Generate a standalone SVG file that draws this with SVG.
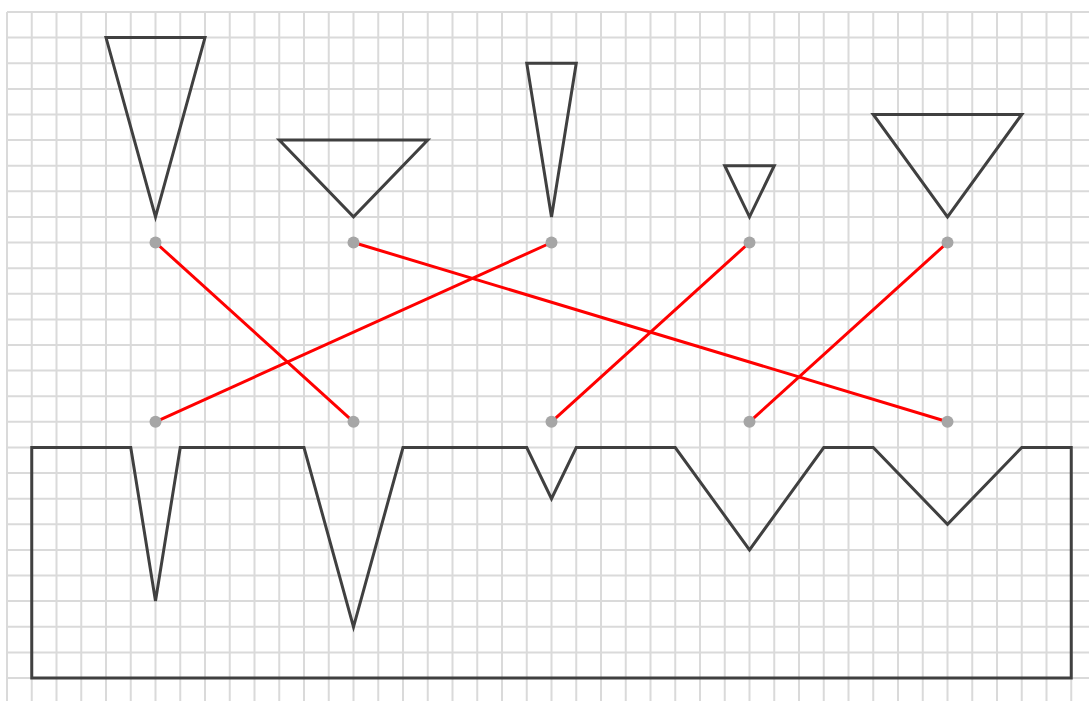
<svg xmlns="http://www.w3.org/2000/svg" width="1089" height="701" viewBox="0 0 1089 701">
<style>
.grid{stroke:#dadada;stroke-width:2;fill:none}
.shape{stroke:#404040;stroke-width:3;fill:none;stroke-linejoin:miter}
.link{stroke:#ff0000;stroke-width:3;fill:none}
.dot{fill:#a6a6a6}
</style>
<rect width="1089" height="701" fill="#ffffff"/>
<g id="grid" class="grid">
<path d="M7,12V701M31.75,12V701M56.5,12V701M81.25,12V701M106,12V701M130.75,12V701M155.5,12V701M180.25,12V701M205,12V701M229.75,12V701M254.5,12V701M279.25,12V701M304,12V701M328.75,12V701M353.5,12V701M378.25,12V701M403,12V701M427.75,12V701M452.5,12V701M477.25,12V701M502,12V701M526.75,12V701M551.5,12V701M576.25,12V701M601,12V701M625.75,12V701M650.5,12V701M675.25,12V701M700,12V701M724.75,12V701M749.5,12V701M774.25,12V701M799,12V701M823.75,12V701M848.5,12V701M873.25,12V701M898,12V701M922.75,12V701M947.5,12V701M972.25,12V701M997,12V701M1021.75,12V701M1046.5,12V701M1071.25,12V701"/>
<path d="M7,12H1089M7,37.6H1089M7,63.2H1089M7,88.9H1089M7,114.5H1089M7,140.1H1089M7,165.7H1089M7,191.3H1089M7,216.9H1089M7,242.5H1089M7,268.2H1089M7,293.8H1089M7,319.4H1089M7,345H1089M7,370.6H1089M7,396.2H1089M7,421.8H1089M7,447.5H1089M7,473.1H1089M7,498.7H1089M7,524.3H1089M7,549.9H1089M7,575.5H1089M7,601.1H1089M7,626.8H1089M7,652.4H1089M7,678H1089"/>
</g>
<g id="tri1"><path class="shape" d="M106,37.6H205L155.5,216.9Z"/></g>
<g id="tri2"><path class="shape" d="M279.25,140.1H427.75L353.5,216.9Z"/></g>
<g id="tri3"><path class="shape" d="M526.75,63.2H576.25L551.5,216.9Z"/></g>
<g id="tri4"><path class="shape" d="M724.75,165.7H774.25L749.5,216.9Z"/></g>
<g id="tri5"><path class="shape" d="M873.25,114.5H1021.75L947.5,216.9Z"/></g>
<g id="base"><path class="shape" d="M31.75,447.5H130.75L155.5,601.1L180.25,447.5H304L353.5,626.8L403,447.5H526.75L551.5,498.7L576.25,447.5H675.25L749.5,549.9L823.75,447.5H873.25L947.5,524.3L1021.75,447.5H1071.25V678H31.75Z"/></g>
<g id="connectors" class="link">
<line x1="155.5" y1="242.5" x2="353.5" y2="421.8"/>
<line x1="353.5" y1="242.5" x2="947.5" y2="421.8"/>
<line x1="551.5" y1="242.5" x2="155.5" y2="421.8"/>
<line x1="749.5" y1="242.5" x2="551.5" y2="421.8"/>
<line x1="947.5" y1="242.5" x2="749.5" y2="421.8"/>
</g>
<g id="dots" class="dot">
<circle cx="155.5" cy="242.5" r="6"/>
<circle cx="353.5" cy="242.5" r="6"/>
<circle cx="551.5" cy="242.5" r="6"/>
<circle cx="749.5" cy="242.5" r="6"/>
<circle cx="947.5" cy="242.5" r="6"/>
<circle cx="155.5" cy="421.8" r="6"/>
<circle cx="353.5" cy="421.8" r="6"/>
<circle cx="551.5" cy="421.8" r="6"/>
<circle cx="749.5" cy="421.8" r="6"/>
<circle cx="947.5" cy="421.8" r="6"/>
</g>
</svg>
